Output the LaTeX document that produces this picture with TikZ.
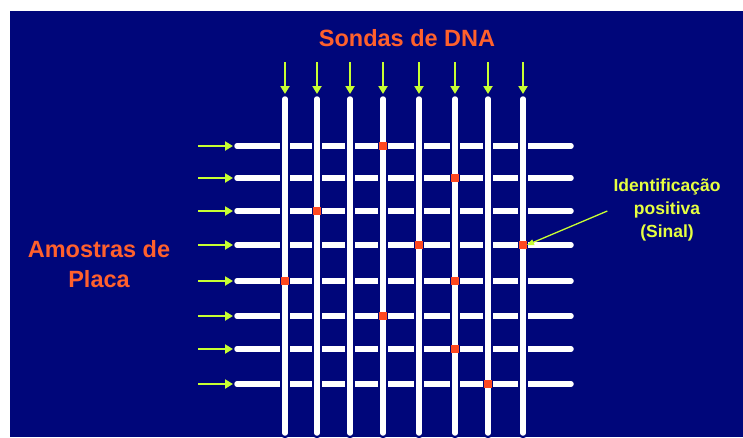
\documentclass[tikz,border=0pt]{standalone}
\usepackage{fontspec}
\setmainfont{Liberation Sans}
\usetikzlibrary{arrows.meta}
\definecolor{fundo}{RGB}{0,6,122}
\definecolor{laranja}{RGB}{255,96,44}
\definecolor{amarelo}{RGB}{230,255,64}
\definecolor{seta}{RGB}{200,255,50}
\definecolor{sinal}{RGB}{255,72,32}
\tikzset{
	titulo/.style = {text=laranja, font=\bfseries\fontsize{23.5}{30}\selectfont, align=center, inner sep=0},
	rotulo/.style = {text=amarelo, font=\bfseries\fontsize{17.5}{23}\selectfont, align=center, inner sep=0},
	barra/.style = {white, line width=5.5pt, line cap=round},
	sonda/.style = {draw=fundo, line width=2.5pt, double=white, double distance=5.5pt, line cap=round},
	marca/.style = {fill=sinal, minimum size=7.5pt, inner sep=0},
	entrada/.style = {seta, line width=2.8pt, -{Triangle[length=8pt,width=9pt]}},
}

\begin{document}
\begin{tikzpicture}[x=1pt, y=-1pt]
\useasboundingbox (0,0) rectangle (743,437);
%fundo
\fill[white] (0,0) rectangle (743,437);
\fill[fundo] (10,11) rectangle (743,437);
%linhas (amostras)
\foreach \y [count=\r] in {146,178,211,245,281,316,349,384}{
	\coordinate (a\r) at (198,\y);
	\coordinate (b\r) at (233,\y);
	\draw[entrada] (a\r) -- (b\r);
	\draw[barra] (237,\y) -- (571,\y);
	}
%colunas (sondas)
\foreach \x [count=\c] in {285,317,350,383,419,455,488,523}{
	\coordinate (s\c) at (\x,62);
	\coordinate (t\c) at (\x,94);
	\draw[entrada] (s\c) -- (t\c);
	\draw[sonda] (\x,99) -- (\x,433);
	}
%sinais
\foreach \c/\r in {4/1,6/2,2/3,5/4,8/4,1/5,6/5,4/6,6/7,7/8}{
	\path (s\c |- a\r) node[marca] (m\c\r) {};
	}
%textos
\node[titulo] (sondas) at (407,38.5) {Sondas de DNA};
\node[titulo] (amostras) at (99,264) {Amostras de\\Placa};
\node[rotulo] (ident) at (667,210) {Identificação\\positiva\\(Sinal)};
\draw[seta, line width=1.3pt, -{Triangle[length=7pt,width=6pt]}] ([xshift=-6pt,yshift=-1pt]ident.west) -- (m84.east);
\end{tikzpicture}
\end{document}
